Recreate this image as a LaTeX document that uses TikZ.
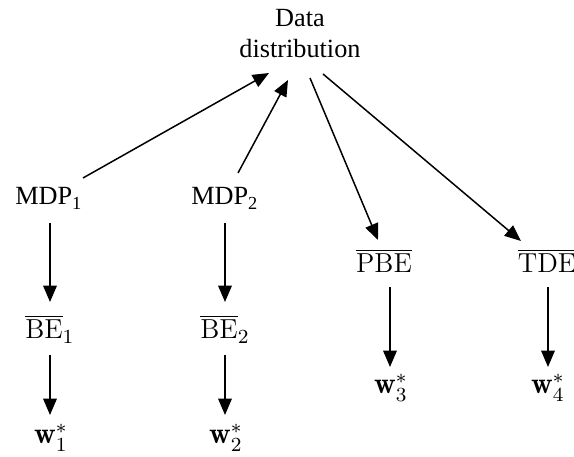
\documentclass[tikz,border=0pt]{standalone}
\usepackage{fontspec}
\newfontfamily\timesf{Liberation Serif}
\usetikzlibrary{arrows.meta}
\begin{document}
\begin{tikzpicture}[x=0.4pt,y=-0.4pt,
  lbl/.style={inner sep=0pt, anchor=base, font=\fontsize{11}{13}\selectfont},
  wlbl/.style={lbl, font=\fontsize{12}{14}\selectfont},
  tlbl/.style={lbl, font=\timesf\fontsize{10.5}{12.4}\selectfont},
  arr/.style={line width=0.6pt, -{Triangle[length=6.5pt,width=5.4pt]}}]
\useasboundingbox (0,0) rectangle (574,457);
\node[inner sep=0pt, align=center, font=\timesf\fontsize{10.5}{12.4}\selectfont] (data) at (300,33.5) {Data\\distribution};
\node[tlbl] (mdp1) at (49,205) {MDP\textsubscript{1}};
\node[tlbl] (mdp2) at (225,205) {MDP\textsubscript{2}};
\node[lbl] (be1) at (50,339) {$\overline{\mathrm{BE}}_1$};
\node[lbl] (be2) at (225,339) {$\overline{\mathrm{BE}}_2$};
\node[wlbl] (w1) at (51,444) {$\mathbf{w}_1^*$};
\node[wlbl] (w2) at (226,444) {$\mathbf{w}_2^*$};
\node[lbl] (pbe) at (384,273) {$\overline{\mathrm{PBE}}$};
\node[lbl] (tde) at (547,273) {$\overline{\mathrm{TDE}}$};
\node[wlbl] (w3) at (391,394) {$\mathbf{w}_3^*$};
\node[wlbl] (w4) at (548,394) {$\mathbf{w}_4^*$};
\draw[arr] ([shift={(34,-27)}]mdp1.base) -- ([shift={(-31,39.5)}]data.center);
\draw[arr] ([shift={(13,-32)}]mdp2.base) -- ([shift={(-12,46.5)}]data.center);
\draw[arr] ([shift={(10,44.5)}]data.center) -- ([shift={(-6,-33)}]pbe.base);
\draw[arr] ([shift={(23,40.5)}]data.center) -- ([shift={(-26,-32)}]tde.base);
\draw[arr] ([shift={(1,18)}]mdp1.base) -- ([shift={(0,-37)}]be1.base);
\draw[arr] ([shift={(0,16)}]be1.base) -- ([shift={(-1,-29)}]w1.base);
\draw[arr] ([shift={(0,18)}]mdp2.base) -- ([shift={(0,-37)}]be2.base);
\draw[arr] ([shift={(0,16)}]be2.base) -- ([shift={(-1,-29)}]w2.base);
\draw[arr] ([shift={(6,14)}]pbe.base) -- ([shift={(-1,-27)}]w3.base);
\draw[arr] ([shift={(1,14)}]tde.base) -- ([shift={(0,-27)}]w4.base);
\end{tikzpicture}
\end{document}
